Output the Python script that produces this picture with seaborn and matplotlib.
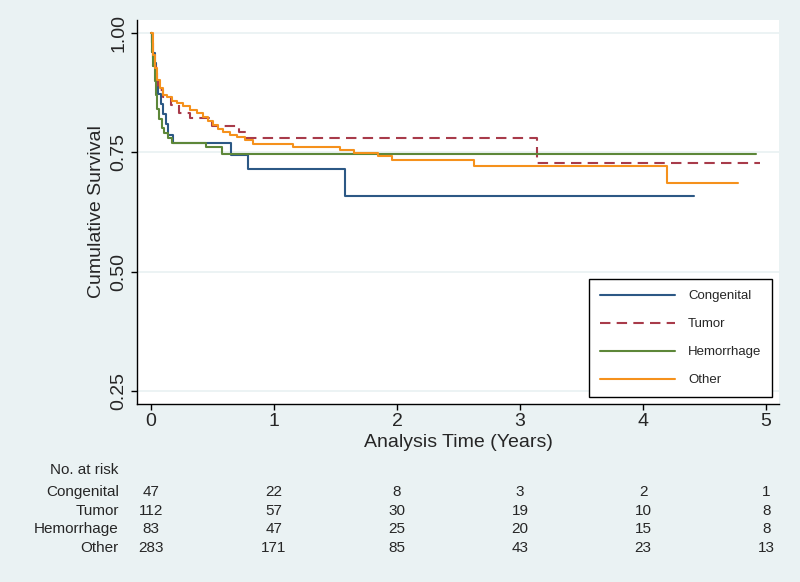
import matplotlib
matplotlib.use("Agg")
import matplotlib.pyplot as plt
import matplotlib.transforms as mtransforms
import seaborn as sns
import pandas as pd

# === DATA ===
groups = ["Congenital", "Tumor", "Hemorrhage", "Other"]

congenital_t = [0, 0.01, 0.02, 0.03, 0.04, 0.05, 0.06, 0.08, 0.10, 0.12, 0.14, 0.18, 0.65, 0.79, 1.58, 4.41]
congenital_s = [1.0, 0.979, 0.957, 0.936, 0.915, 0.894, 0.872, 0.851, 0.830, 0.809, 0.787, 0.769, 0.745, 0.715, 0.659, 0.659]

tumor_t = [0, 0.01, 0.02, 0.04, 0.06, 0.10, 0.16, 0.23, 0.32, 0.50, 0.72, 0.77, 3.14, 4.95]
tumor_s = [1.0, 0.96, 0.93, 0.90, 0.880, 0.866, 0.849, 0.832, 0.822, 0.804, 0.792, 0.780, 0.727, 0.727]

hemorrhage_t = [0, 0.01, 0.02, 0.03, 0.04, 0.05, 0.07, 0.09, 0.11, 0.14, 0.17, 0.45, 0.58, 4.92]
hemorrhage_s = [1.0, 0.96, 0.93, 0.90, 0.87, 0.84, 0.82, 0.80, 0.79, 0.78, 0.769, 0.761, 0.746, 0.746]

other_t = [0, 0.016, 0.033, 0.049, 0.073, 0.098, 0.13, 0.171, 0.211, 0.26, 0.317, 0.374, 0.423,
           0.463, 0.504, 0.545, 0.585, 0.642, 0.699, 0.764, 0.829, 1.154, 1.537, 1.65, 1.846,
           1.959, 2.626, 4.195, 4.77]
other_s = [1.0, 0.954, 0.927, 0.901, 0.885, 0.870, 0.866, 0.857, 0.853, 0.847, 0.839, 0.832, 0.824,
           0.816, 0.807, 0.799, 0.792, 0.786, 0.782, 0.776, 0.767, 0.761, 0.755, 0.748, 0.742,
           0.734, 0.721, 0.686, 0.686]

risk_times = [0, 1, 2, 3, 4, 5]
risk_congenital = [47, 22, 8, 3, 2, 1]
risk_tumor = [112, 57, 30, 19, 10, 8]
risk_hemorrhage = [83, 47, 25, 20, 15, 8]
risk_other = [283, 171, 85, 43, 23, 13]

colors = ["#2c5885", "#a83b4a", "#5d8739", "#f5911c"]
BG = "#eaf2f3"

sns.set_theme(style="white")
plt.rcParams["font.family"] = ["Liberation Sans", "DejaVu Sans"]

fig = plt.figure(figsize=(8, 5.82), dpi=100, facecolor=BG)
ax = fig.add_axes([0.171, 0.3067, 0.803, 0.659])
ax.set_facecolor("white")

series = [(congenital_t, congenital_s), (tumor_t, tumor_s),
          (hemorrhage_t, hemorrhage_s), (other_t, other_s)]
for name, (t, s), c in zip(groups, series, colors):
    df = pd.DataFrame({"time": t, "surv": s})
    ls = (0, (5, 3)) if name == "Tumor" else "-"
    sns.lineplot(data=df, x="time", y="surv", ax=ax, color=c, label=name,
                 drawstyle="steps-post", estimator=None, sort=False,
                 linewidth=1.5, linestyle=ls, legend=False)

ax.set_xlim(-0.114, 5.106)
ax.set_ylim(0.224, 1.027)
ax.set_xticks(risk_times)
ax.set_yticks([0.25, 0.50, 0.75, 1.00])
ax.set_yticklabels(["0.25", "0.50", "0.75", "1.00"], rotation=90, va="center")
ax.yaxis.grid(True, color=BG, linewidth=1.3)
ax.set_axisbelow(True)
for side in ["top", "right"]:
    ax.spines[side].set_visible(False)
for side in ["left", "bottom"]:
    ax.spines[side].set_color("black")
    ax.spines[side].set_linewidth(1.0)
ax.tick_params(axis="both", direction="out", length=4, width=1, color="black",
               labelsize=14, pad=3, left=True, bottom=True)
ax.set_xlabel("Analysis Time (Years)", fontsize=14, labelpad=3)
ax.set_ylabel("Cumulative Survival", fontsize=14, labelpad=4)

leg = ax.legend(loc="lower right", bbox_to_anchor=(0.989, 0.017), borderaxespad=0,
                fontsize=9.5, handlelength=5.7, handletextpad=1.0, labelspacing=1.2,
                borderpad=0.8, fancybox=False, framealpha=1, edgecolor="black")
leg.get_frame().set_linewidth(1.0)

# === number at risk table ===
trans = mtransforms.blended_transform_factory(ax.transData, fig.transFigure)
label_x = -0.26
fig.text(label_x, 1 - 470 / 582, "No. at risk", transform=trans, ha="right", va="center", fontsize=11)
rows = [risk_congenital, risk_tumor, risk_hemorrhage, risk_other]
row_y = [492, 511, 529, 548]
for name, vals, py in zip(groups, rows, row_y):
    y = 1 - py / 582
    fig.text(label_x, y, name, transform=trans, ha="right", va="center", fontsize=11)
    for t, v in zip(risk_times, vals):
        fig.text(t, y, str(v), transform=trans, ha="center", va="center", fontsize=11)

fig.savefig("out.png", dpi=100, facecolor=BG)
